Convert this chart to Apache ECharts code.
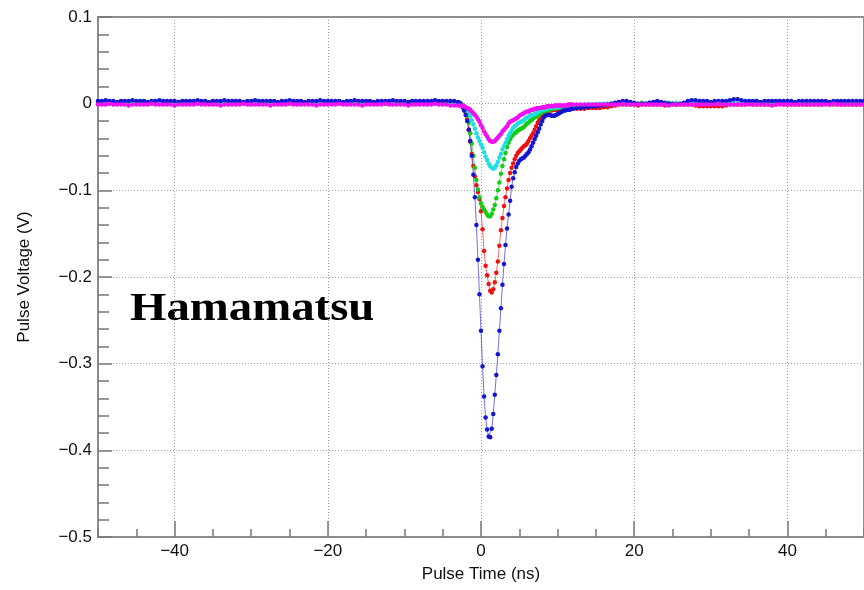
<!DOCTYPE html>
<html>
<head>
<meta charset="utf-8">
<script src="https://cdn.jsdelivr.net/npm/echarts@6/dist/echarts.min.js"></script>
<style>
  html, body {margin: 0; padding: 0; background: #fff;}
  #chart {width: 864px; height: 590px;}
</style>
</head>
<body>
<div id="chart"></div>
<script>
// digitizer sampling: 0.5 ns away from the pulse, 0.2 ns across it
const preSamples = {start: -50, step: 0.5, count: 94};
const pulseSamples = {start: -3, step: 0.2, count: 76};
const postSamples = {start: 12.5, step: 0.5, count: 76};

const majorTimeTicks = [-40, -20, 0, 20, 40];

// pulse voltages in mV, one list per sampling segment
const bluePre = [
  3,3,4,3,3,2,3,3,3,4, 3,3,3,2,3,3,4,3,3,3, 3,2,3,3,3,3,4,3,3,2,
  3,3,3,4,3,3,3,3,2,3, 3,4,3,3,3,3,3,2,3,3, 4,3,3,3,2,3,3,3,4,3,
  3,3,3,3,2,3,3,4,3,3, 3,3,2,3,3,3,3,4,3,3, 3,2,3,3,3,3,3,3,4,3,
  3,3,3,3
];
const bluePulse = [
  2,1,-1,-4,-8,-13,-20,-30,-43,-60,
  -82,-108,-140,-180,-220,-262,-303,-338,-362,-376,
  -384,-385,-375,-358,-336,-313,-289,-262,-236,-209,
  -185,-163,-144,-128,-112,-96,-86,-79,-73,-69,
  -66,-64,-63,-62,-60,-58,-56,-53,-49,-45,
  -41,-37,-33,-29,-24,-20,-16,-14,-13,-13,
  -13,-14,-14,-14,-13,-12,-11,-10,-9,-8,
  -8,-7,-7,-7,-6,-6
];
const bluePost = [
  -5,-5,-4,-4,-3,-3,-2,-2,-1,0, 1,2,3,3,2,1,0,0,0,1,
  2,3,2,1,0,0,-1,0,1,3, 4,4,3,3,3,2,3,3,3,3,
  4,5,5,4,3,3,3,3,2,3, 3,3,3,3,3,3,3,2,3,3,
  3,3,3,3,3,3,2,3,3,3, 3,3,3,3,3,3
];

const redPre = [
  1,1,1,0,1,1,1,2,1,1, 1,1,0,1,1,1,1,1,2,1, 1,1,1,1,0,1,1,1,1,1,
  2,1,1,1,1,1,0,1,1,1, 1,1,1,2,1,1,1,1,1,0, 1,1,1,1,1,2,1,1,1,1,
  1,0,1,1,1,1,1,1,2,1, 1,1,1,0,1,1,1,1,1,1, 2,1,1,1,1,0,1,1,1,1,
  1,1,0,0
];
const redPulse = [
  1,0,0,-2,-5,-10,-18,-30,-44,-58,
  -72,-84,-94,-102,-110,-124,-145,-170,-187,-198,
  -208,-216,-218,-214,-206,-195,-182,-164,-146,-132,
  -118,-108,-98,-88,-80,-74,-69,-64,-60,-57,
  -55,-53,-51,-49,-48,-46,-43,-40,-37,-34,
  -30,-26,-22,-19,-17,-15,-12,-10,-9,-8,
  -8,-8,-7,-7,-7,-7,-7,-7,-7,-7,
  -6,-6,-6,-6,-6,-6
];
const redPost = [
  -6,-6,-6,-5,-5,-5,-5,-4,-4,-3, -2,-1,-1,-1,-1,-1,-2,-1,-1,-1,
  -1,-1,-1,-2,-1,-1,-1,-1,-1,-1, -1,-2,-3,-3,-3,-3,-3,-3,-3,-2,
  -1,-1,-1,-1,-1,0,-1,-1,-1,-1, -1,-1,-1,0,-1,-1,-1,-1,-1,-1,
  -1,-1,-1,-1,-1,0,-1,-1,-1,-1, -1,-1,-1,-1,-1,-1
];

const greenPre = [
  1,1,0,1,1,1,1,2,1,1, 1,1,1,1,0,1,1,1,1,1, 2,1,1,1,1,1,0,1,1,1,
  1,1,1,2,1,1,1,1,0,1, 1,1,1,1,1,2,1,1,1,1, 0,1,1,1,1,1,1,2,1,1,
  1,1,1,0,1,1,1,1,1,2, 1,1,1,1,1,0,1,1,1,1, 1,2,1,1,1,1,1,0,1,1,
  1,1,0,0
];
const greenPulse = [
  1,0,0,-2,-4,-8,-14,-22,-34,-46,
  -60,-74,-88,-99,-108,-115,-119,-122,-125,-128,
  -130,-130,-127,-122,-117,-109,-100,-91,-81,-72,
  -64,-57,-50,-45,-41,-38,-36,-34,-33,-31,
  -30,-29,-28,-27,-25,-23,-22,-20,-19,-17,
  -16,-15,-14,-12,-11,-10,-9,-9,-8,-7,
  -7,-6,-6,-6,-5,-5,-5,-4,-4,-4,
  -4,-3,-3,-3,-3,-3
];
const greenPost = [
  -3,-2,-2,-2,-2,-1,-1,-1,-1,0, 0,0,1,0,0,0,0,1,0,0,
  0,0,0,0,1,0,0,0,0,0, 1,0,0,0,0,0,0,1,0,0,
  0,0,0,1,0,0,0,0,0,0, 1,0,0,0,0,0,1,0,0,0,
  0,0,0,0,1,0,0,0,0,0, 0,1,0,0,0,0
];

const cyanPre = [
  0,1,0,0,1,0,0,0,1,0, 0,0,1,0,0,0,0,1,0,0, 1,0,0,0,0,1,0,0,0,1,
  0,0,0,1,0,0,1,0,0,0, 0,1,0,0,0,0,1,0,0,0, 1,0,0,0,1,0,0,0,0,1,
  0,0,1,0,0,0,0,1,0,0, 0,1,0,0,0,1,0,0,0,0, 1,0,0,0,0,1,0,0,0,0,
  0,0,0,0
];
const cyanPulse = [
  0,0,-1,-2,-3,-5,-7,-10,-14,-19,
  -24,-29,-34,-39,-43,-47,-51,-56,-61,-65,
  -69,-72,-74,-75,-74,-71,-67,-62,-58,-53,
  -49,-45,-41,-37,-34,-31,-28,-26,-25,-23,
  -22,-21,-20,-19,-17,-16,-15,-14,-13,-13,
  -12,-11,-10,-9,-8,-7,-7,-6,-6,-5,
  -5,-5,-4,-4,-4,-4,-3,-3,-3,-3,
  -3,-2,-2,-2,-2,-2
];
const cyanPost = [
  -2,-2,-1,-1,-1,-1,0,0,0,0, 0,0,1,0,0,0,0,0,0,1,
  0,0,0,0,0,0,1,0,0,0, 0,0,0,0,1,0,0,0,0,0,
  0,1,0,0,0,0,0,0,1,0, 0,0,0,0,0,1,0,0,0,0,
  0,0,1,0,0,0,0,0,0,0, 1,0,0,0,0,0
];

const magentaPre = [
  -1,-1,-1,0,-1,-1,-1,-1,-2,-1, -1,-1,-1,-1,0,-1,-1,-1,-1,-1, -2,-1,-1,-1,-1,-1,0,-1,-1,-1,
  -1,-1,-2,-1,-1,-1,-1,-1,0,-1, -1,-1,-1,-1,-1,-2,-1,-1,-1,-1, 0,-1,-1,-1,-1,-1,-1,-2,-1,-1,
  -1,-1,-1,0,-1,-1,-1,-1,-1,-2, -1,-1,-1,-1,-1,0,-1,-1,-1,-1, -1,-2,-1,-1,-1,-1,-1,-1,0,-1,
  -1,-1,-2,-2
];
const magentaPulse = [
  -2,-2,-2,-3,-3,-4,-5,-6,-7,-9,
  -11,-13,-15,-18,-21,-25,-28,-32,-35,-38,
  -41,-43,-44,-44,-43,-41,-39,-37,-35,-32,
  -30,-28,-26,-23,-21,-20,-19,-18,-17,-16,
  -14,-13,-12,-11,-10,-9,-9,-8,-7,-7,
  -6,-6,-5,-5,-5,-4,-4,-4,-3,-3,
  -3,-3,-3,-2,-2,-2,-2,-2,-2,-2,
  -2,-2,-1,-1,-1,-1
];
const magentaPost = [
  -1,-1,-1,-1,-1,-1,-1,-1,-1,-1, -1,-1,0,-1,-1,-1,-1,-1,-1,-1,
  -1,-1,-1,-1,-2,-1,-1,-1,-1,-1, -1,-1,-1,-1,-1,-1,-1,0,-1,-1,
  -1,-1,-1,-1,-1,-1,-1,-1,-1,-1, -1,-2,-1,-1,-1,-1,-1,-1,-1,-1,
  -1,-1,-1,-1,-1,-1,-1,0,-1,-1, -1,-1,-1,-1,-1,-1
];

function sampleTimes(seg) {
  const out = [];
  for (let i = 0; i < seg.count; i++) out.push(+(seg.start + i * seg.step).toFixed(2));
  return out;
}
const times = [].concat(sampleTimes(preSamples), sampleTimes(pulseSamples), sampleTimes(postSamples));

function trace(pre, mid, post) {
  const mv = pre.concat(mid, post);
  return times.map((t, i) => [t, mv[i] / 1000]);
}

const font = '"Liberation Sans", Arial, Helvetica, sans-serif';
const axisGrey = '#8c8c8c';
const fmt = v => {
  const s = Math.abs(v) < 1e-9 ? '0' : String(Math.round(v * 10) / 10);
  return s.replace('-', '\u2212');
};

const chart = echarts.init(document.getElementById('chart'));
chart.setOption({
  animation: false,
  grid: {
    left: 98, top: 17, width: 767, bottom: 53,
    show: true, borderColor: axisGrey, borderWidth: 2
  },
  xAxis: [
    {
      type: 'value', min: -50, max: 50, interval: 10,
      name: 'Pulse Time (ns)', nameLocation: 'middle', nameGap: 29,
      nameTextStyle: {fontFamily: font, fontSize: 17, color: '#111'},
      axisLine: {onZero: false, lineStyle: {color: axisGrey, width: 2}},
      axisTick: {inside: true, length: 16, customValues: majorTimeTicks, lineStyle: {color: '#777', width: 1.5}},
      axisLabel: {customValues: majorTimeTicks, margin: 6, fontFamily: font, fontSize: 17, color: '#111', formatter: fmt},
      splitLine: {show: true, lineStyle: {type: [1, 2], color: '#a0a0a0'}}
    },
    {
      type: 'value', min: -50, max: 50, interval: 5, position: 'bottom',
      axisLine: {show: false, onZero: false},
      axisTick: {inside: true, length: 8, lineStyle: {color: '#777', width: 1.5}},
      axisLabel: {show: false},
      splitLine: {show: false}
    }
  ],
  yAxis: {
    type: 'value', min: -0.5, max: 0.1, interval: 0.1,
    name: 'Pulse Voltage (V)', nameLocation: 'middle', nameGap: 65,
    nameTextStyle: {fontFamily: font, fontSize: 17, color: '#111'},
    axisLine: {show: true, onZero: false, lineStyle: {color: axisGrey, width: 2}},
    axisTick: {inside: true, length: 14, lineStyle: {color: '#777', width: 1.5}},
    minorTick: {show: true, splitNumber: 5, length: 11, lineStyle: {color: '#777', width: 1.5}},
    axisLabel: {margin: 6, fontFamily: font, fontSize: 17, color: '#111', formatter: fmt},
    splitLine: {show: true, lineStyle: {type: [1, 2], color: '#a0a0a0'}}
  },
  graphic: [{
    type: 'text', x: 130, y: 310, scaleX: 1.2,
    style: {
      text: 'Hamamatsu', fill: '#000', verticalAlign: 'middle',
      font: 'bold 39px "Liberation Serif", "Times New Roman", serif'
    }
  }],
  series: [
    {name: 'red', color: '#ee1111', data: trace(redPre, redPulse, redPost)},
    {name: 'green', color: '#15cc15', data: trace(greenPre, greenPulse, greenPost)},
    {name: 'cyan', color: '#22dede', data: trace(cyanPre, cyanPulse, cyanPost)},
    {name: 'blue', color: '#1414d4', data: trace(bluePre, bluePulse, bluePost)},
    {name: 'magenta', color: '#f010f0', data: trace(magentaPre, magentaPulse, magentaPost)}
  ].map(s => ({
    ...s,
    type: 'line',
    xAxisIndex: 0,
    symbol: 'circle',
    symbolSize: 4.5,
    showSymbol: true,
    lineStyle: {width: 1, opacity: 0.6},
    emphasis: {disabled: true}
  }))
});
</script>
</body>
</html>
